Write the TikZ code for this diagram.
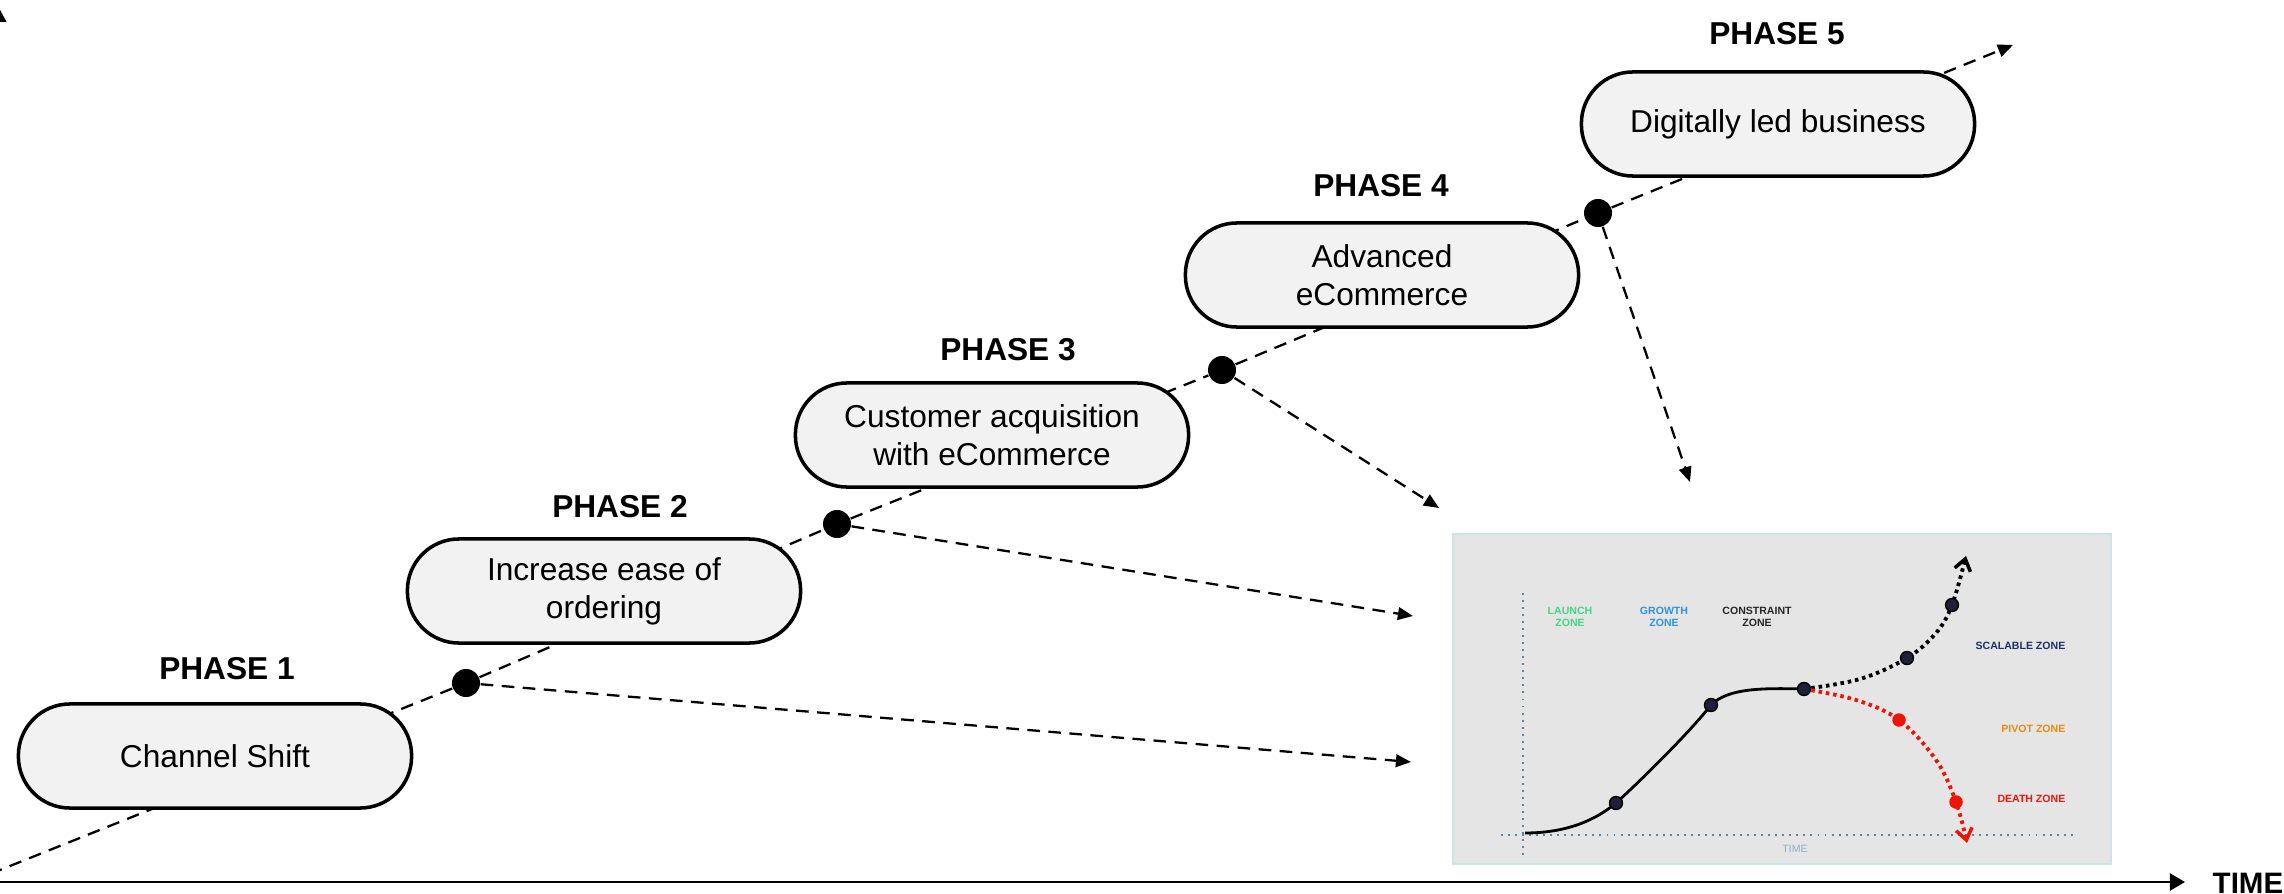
\documentclass[tikz,border=0pt]{standalone}
\usepackage{fontspec}
\setmainfont{Liberation Sans}
\usetikzlibrary{arrows.meta}

\definecolor{boxfill}{HTML}{F2F2F2}
\definecolor{chartbg}{HTML}{E5E5E5}
\definecolor{chartedge}{HTML}{CFE2E6}
\definecolor{gridblue}{HTML}{5A84A3}
\definecolor{launchgreen}{HTML}{45D586}
\definecolor{growthblue}{HTML}{2E93DC}
\definecolor{constraintgray}{HTML}{262626}
\definecolor{scalablenavy}{HTML}{1C2F68}
\definecolor{pivotorange}{HTML}{F0890A}
\definecolor{deathred}{HTML}{EE1508}
\definecolor{timelabel}{HTML}{8DB0C6}
\definecolor{dotnavy}{HTML}{1E2038}

\tikzset{
  phasebox/.style={draw=black, line width=1pt, fill=boxfill,
    rounded corners=0.515cm, minimum width=3.93cm, minimum height=1.04cm,
    align=center, inner sep=0pt, font=\fontsize{9}{10.8}\selectfont},
  phaselabel/.style={inner sep=0pt, font=\bfseries\fontsize{9}{10.8}\selectfont},
  pathdot/.style={circle, fill=black, minimum size=0.28cm, inner sep=0pt},
  dashline/.style={line width=0.65pt, dash pattern=on 3.6pt off 2.4pt},
  leadto/.style={dashline, -{Triangle[length=4.3pt,width=3.6pt]}},
  axisline/.style={line width=0.85pt},
  chartbox/.style={draw=chartedge, line width=0.6pt, fill=chartbg,
    minimum width=6.58cm, minimum height=3.30cm, inner sep=0pt},
  griddots/.style={gridblue, line width=0.55pt, dash pattern=on 0.55pt off 1.45pt},
  growthcurve/.style={black, line width=0.8pt},
  upbranch/.style={black, line width=1.1pt, dash pattern=on 1pt off 1.1pt,
    -{Straight Barb[length=3.2pt,width=4.6pt,line width=1pt]}},
  downbranch/.style={deathred, line width=1.1pt, dash pattern=on 1pt off 1.1pt,
    -{Straight Barb[length=3.2pt,width=4.6pt,line width=1pt]}},
  navydot/.style={circle, draw=black, line width=0.4pt, fill=dotnavy,
    minimum size=0.13cm, inner sep=0pt},
  reddot/.style={circle, fill=deathred, minimum size=0.135cm, inner sep=0pt},
  zonelbl/.style={inner sep=0pt, align=center, font=\bfseries\fontsize{3}{3.5}\selectfont},
}

\begin{document}
\begin{tikzpicture}[x=0.01cm, y=-0.01cm]
\useasboundingbox (0,0) rectangle (2284,894);
\clip (0,0) rectangle (2284,894);

% ---- axes ----
\coordinate (origin) at (-2,882);
\coordinate (ytop) at (-2,6);
\coordinate (xend) at (2185,882);
\draw[axisline, -{Triangle[length=4.5pt,width=4.6pt]}] (origin) -- (ytop);
\draw[axisline, -{Triangle[length=4.3pt,width=4.8pt]}] (origin) -- (xend);
\node[anchor=west, inner sep=0pt, font=\bfseries\fontsize{8.4}{10}\selectfont] (timeword) at (2212,883) {TIME};

% ---- milestone dots on the growth path ----
\coordinate (pathstart) at (-10,874);
\node[pathdot] (d1) at (466,683) {};
\node[pathdot] (d2) at (837,524) {};
\node[pathdot] (d3) at (1222,370) {};
\node[pathdot] (d4) at (1598,213) {};
\coordinate (pathend) at (2013,45);

\draw[dashline] (pathstart) -- (d1);
\draw[dashline] (d1) -- (d2);
\draw[dashline] (d2) -- (d3);
\draw[dashline] (d3) -- (d4);
\draw[leadto] (d4) -- (pathend);

% ---- leaders into the growth chart ----
\coordinate (c1) at (1411,762);
\coordinate (c2) at (1413,616);
\coordinate (c3) at (1439,508);
\coordinate (c4) at (1690,482);
\draw[leadto] (d1) -- (c1);
\draw[leadto] (d2) -- (c2);
\draw[leadto] (d3) -- (c3);
\draw[leadto] (d4) -- (c4);

% ---- phases ----
\node[phasebox] (b1) at (215,756) {Channel Shift};
\node[phasebox] (b2) at (604,591) {Increase ease of\\ordering};
\node[phasebox] (b3) at (992,435) {Customer acquisition\\with eCommerce};
\node[phasebox] (b4) at (1382,275) {Advanced\\eCommerce};
\node[phasebox] (b5) at (1778,124) {Digitally led business};

\node[phaselabel] (p1) at (227,669) {PHASE 1};
\node[phaselabel] (p2) at (620,507) {PHASE 2};
\node[phaselabel] (p3) at (1008,350) {PHASE 3};
\node[phaselabel] (p4) at (1381,186) {PHASE 4};
\node[phaselabel] (p5) at (1777,34) {PHASE 5};

% ---- growth chart ----
\node[chartbox] (chart) at (1782,699) {};
\draw[griddots] (1523,593) -- (1523,857);
\draw[griddots] (1501,835) -- (2076,835);

\coordinate (g0) at (1525,833);
\coordinate (ga) at (1616,803);
\coordinate (gb) at (1711,705);
\coordinate (gc) at (1804,689);
\coordinate (s1) at (1907,658);
\coordinate (s2) at (1952,605);
\coordinate (stip) at (1966,556);
\coordinate (r1) at (1899,720);
\coordinate (r2) at (1956,802);
\coordinate (rtip) at (1967,843);

\draw[growthcurve] (g0) .. controls (1570,833) and (1598,818) .. (ga)
  .. controls (1650,772) and (1694,727) .. (gb)
  .. controls (1728,688) and (1762,688) .. (gc);
\draw[upbranch] plot[smooth, tension=0.6] coordinates
  {(1804,689) (1860,679) (1907,658) (1936,633) (1952,605) (1966,556)};
\draw[downbranch] plot[smooth, tension=0.6] coordinates
  {(1804,689) (1856,700) (1899,720) (1936,760) (1956,802) (1967,843)};

\node[navydot] at (ga) {};
\node[navydot] at (gb) {};
\node[navydot] at (gc) {};
\node[navydot] at (s1) {};
\node[navydot] at (s2) {};
\node[reddot] at (r1) {};
\node[reddot] at (r2) {};

\node[zonelbl, text=launchgreen] (zl) at (1570,617) {LAUNCH\\ZONE};
\node[zonelbl, text=growthblue] (zg) at (1664,617) {GROWTH\\ZONE};
\node[zonelbl, text=constraintgray] (zc) at (1757,617) {CONSTRAINT\\ZONE};
\node[zonelbl, text=scalablenavy, anchor=east] (zs) at (2066,646) {SCALABLE ZONE};
\node[zonelbl, text=pivotorange, anchor=east] (zp) at (2066,729) {PIVOT ZONE};
\node[zonelbl, text=deathred, anchor=east] (zd) at (2066,799) {DEATH ZONE};
\node[inner sep=0pt, text=timelabel, font=\fontsize{3}{3.5}\selectfont] (zt) at (1795,849) {TIME};
\end{tikzpicture}
\end{document}
